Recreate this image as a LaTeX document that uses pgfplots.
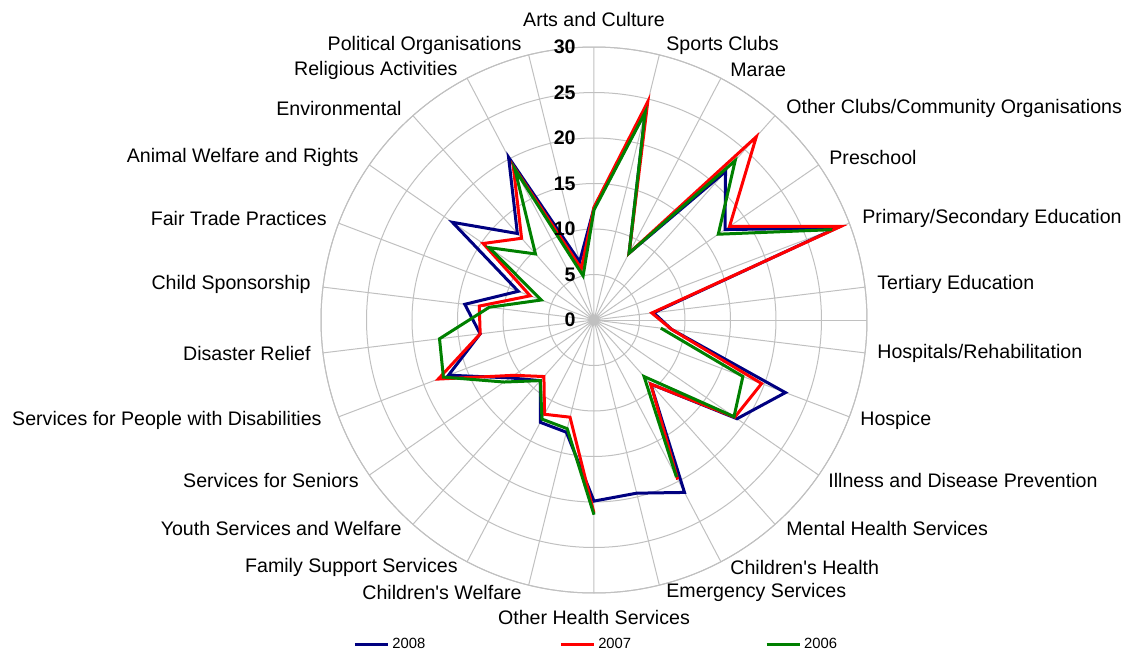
\documentclass[border=0pt]{standalone}
\usepackage{fontspec}
\setmainfont{Liberation Sans}
\usepackage{pgfplots}
\usepgfplotslibrary{polar}
\pgfplotsset{compat=1.18}
\definecolor{c08}{RGB}{0,0,128}
\definecolor{c07}{RGB}{255,0,0}
\definecolor{c06}{RGB}{0,128,0}
\definecolor{gridc}{RGB}{192,192,192}
\begin{document}
\fontsize{9.8}{11.8}\selectfont
\begin{tikzpicture}
\useasboundingbox (-297pt,-166.5pt) rectangle (268pt,160pt);
\begin{polaraxis}[
  at={(0pt,0pt)}, anchor=center,
  scale only axis, width=273pt, height=273pt,
  ymin=0, ymax=30, xmin=0, xmax=360,
  xtick={90,76.154,62.308,48.462,34.615,20.769,6.923,353.077,339.231,325.385,311.538,297.692,283.846,270,256.154,242.308,228.462,214.615,200.769,186.923,173.077,159.231,145.385,131.538,117.692,103.846},
  ytick={5,10,15,20,25,30},
  xticklabels={}, yticklabels={},
  grid=major, major grid style={gridc, line width=0.5pt},
  axis line style={gridc, line width=0.5pt},
  major tick length=0pt,
  unbounded coords=jump,
  clip=false,
  legend columns=3,
  legend style={at={(0.505,-0.095)}, anchor=center, draw=none, fill=none,
    font=\fontsize{7.4}{9}\selectfont,
    nodes={inner sep=1.5pt},
    /tikz/every even column/.append style={column sep=65.5pt}},
  legend image code/.code={\draw[#1] (0pt,0pt) -- (16.5pt,0pt);},
]
\addplot[c08, line width=1.5pt] coordinates {
(90,12.3) (76.154,23.6) (62.308,8.3) (48.462,21.8) (34.615,17.5) (20.769,28.5)
(6.923,6.6) (353.077,8.6) (339.231,22.5) (325.385,19.1) (311.538,9.4) (297.692,21.4)
(283.846,19.6) (270,19.9) (256.154,12.7) (242.308,12.7) (228.462,8.9) (214.615,11.2)
(200.769,17.1) (186.923,12.6) (173.077,14.3) (159.231,8.9) (145.385,18.9) (131.538,12.7)
(117.692,20.2) (103.846,6.6) (90,12.3)};
\addlegendentry{2008}
\addplot[c07, line width=1.5pt] coordinates {
(90,12.4) (76.154,24.7) (62.308,8.3) (48.462,26.9) (34.615,18.1) (20.769,29.0)
(6.923,6.4) (353.077,8.6) (339.231,19.7) (325.385,18.8) (311.538,9.4) (297.692,19.8)
(283.846,nan) (270,21.2) (256.154,11.0) (242.308,11.7) (228.462,8.3) (214.615,10.7)
(200.769,18.3) (186.923,12.6) (173.077,12.7) (159.231,7.5) (145.385,14.8) (131.538,12.0)
(117.692,19.1) (103.846,5.8) (90,12.4)};
\addlegendentry{2007}
\addplot[c06, line width=1.5pt] coordinates {
(90,12.1) (76.154,23.5) (62.308,8.3) (48.462,23.4) (34.615,16.6) (20.769,28.0)
(6.923,nan) (353.077,7.4) (339.231,17.5) (325.385,18.7) (311.538,8.3) (297.692,19.5)
(283.846,nan) (270,21.4) (256.154,12.3) (242.308,12.3) (228.462,8.9) (214.615,12.0)
(200.769,17.7) (186.923,17.1) (173.077,11.6) (159.231,6.2) (145.385,14.0) (131.538,9.7)
(117.692,18.7) (103.846,5.0) (90,12.1)};
\addlegendentry{2006}
\foreach \r in {0,5,10,15,20,25,30} {
  \edef\tmp{\noexpand\node[anchor=east, font=\noexpand\bfseries, inner sep=0pt, xshift=-9pt] at (axis cs:90,\r) {\r};}
  \tmp
}
\end{polaraxis}
% category labels
\begin{scope}[every node/.style={inner sep=0pt}]
\node[anchor=center] at (0pt,150.5pt) {Arts and Culture};
\node[anchor=west] at (36pt,137.5pt) {Sports Clubs};
\node[anchor=west] at (68pt,125pt) {Marae};
\node[anchor=west] at (96pt,106pt) {Other Clubs/Community Organisations};
\node[anchor=west] at (117.5pt,81.5pt) {Preschool};
\node[anchor=west] at (134pt,51pt) {Primary/Secondary Education};
\node[anchor=west] at (141.5pt,18pt) {Tertiary Education};
\node[anchor=west] at (141.5pt,-16.5pt) {Hospitals/Rehabilitation};
\node[anchor=west] at (133pt,-50pt) {Hospice};
\node[anchor=west] at (117pt,-80pt) {Illness and Disease Prevention};
\node[anchor=west] at (96pt,-104pt) {Mental Health Services};
\node[anchor=west] at (68pt,-123.5pt) {Children\textquotesingle s Health};
\node[anchor=west] at (36pt,-136pt) {Emergency Services};
\node[anchor=center] at (0pt,-148.5pt) {Other Health Services};
\node[anchor=east] at (-36pt,-136pt) {Children\textquotesingle s Welfare};
\node[anchor=east] at (-68pt,-123.5pt) {Family Support Services};
\node[anchor=east] at (-96pt,-104pt) {Youth Services and Welfare};
\node[anchor=east] at (-117.5pt,-80pt) {Services for Seniors};
\node[anchor=east] at (-136pt,-50pt) {Services for People with Disabilities};
\node[anchor=east] at (-141.5pt,-16.5pt) {Disaster Relief};
\node[anchor=east] at (-141.5pt,18pt) {Child Sponsorship};
\node[anchor=east] at (-133.5pt,51pt) {Fair Trade Practices};
\node[anchor=east] at (-117.5pt,81.5pt) {Animal Welfare and Rights};
\node[anchor=east] at (-96pt,106pt) {Environmental};
\node[anchor=east] at (-68pt,125pt) {Religious Activities};
\node[anchor=east] at (-36pt,137.5pt) {Political Organisations};
\end{scope}
\end{tikzpicture}
\end{document}
